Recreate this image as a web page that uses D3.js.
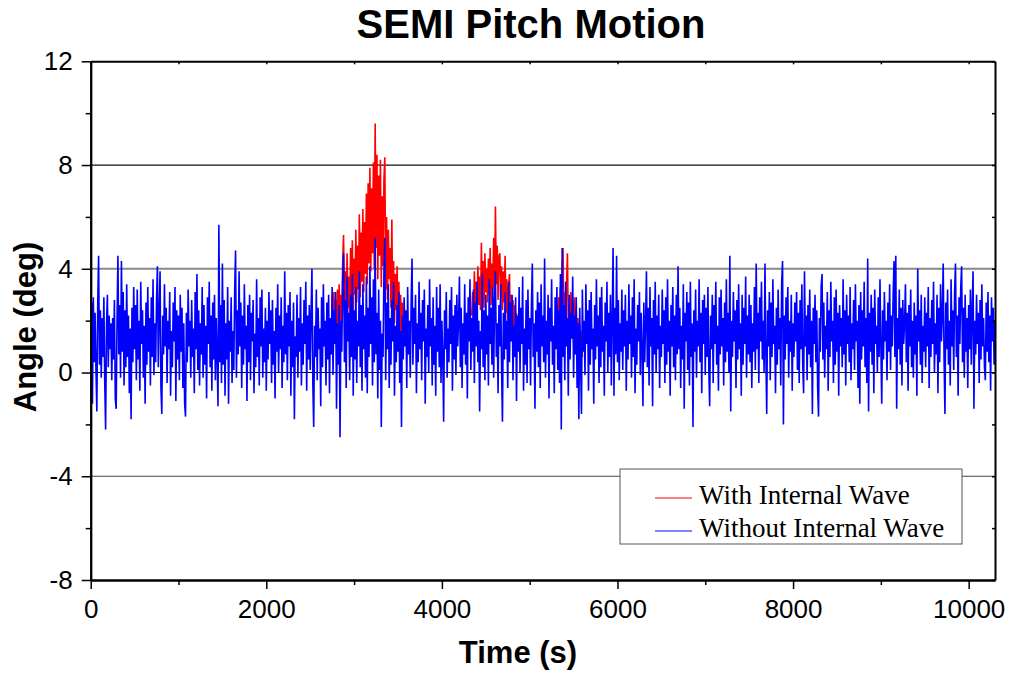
<!DOCTYPE html>
<html>
<head>
<meta charset="utf-8">
<script src="https://cdn.jsdelivr.net/npm/d3@7"></script>
<style>
  body { margin: 0; background: #fff; }
</style>
</head>
<body>
<div class="canva"></div>
<script>
// seconds between samples
const sampleStep = 10;

// pitch angle (deg) without internal wave, from t = 0 s
const withoutWave = [
  1.2,2.7,-1.2,2.9,0.4,2.3,0.1,-1.5,2.6,4.5,0.3,2.4,-0.2,2.1,0.6,2.9,-0.4,-2.2,1.8,3.0,0.2,2.2,0.9,1.9,-0.3,2.1,0.5,2.8,-1.0,-1.4,2.0,4.5,0.7,2.6,-0.2,4.3,0.8,3.1,-0.5,2.4,0.2,3.4,0.6,2.2,-0.8,1.7,-1.8,2.5,0.4,3.3,
  0.9,2.6,-0.3,3.2,0.5,2.0,-0.7,3.5,1.1,2.4,-0.2,1.8,-1.2,2.7,0.3,3.3,0.8,2.1,-0.5,2.9,0.6,3.6,-0.1,1.9,0.4,2.8,4.1,0.2,2.3,3.9,-0.6,-1.6,2.2,0.7,3.4,1.0,2.5,-0.4,2.0,0.9,3.1,-0.9,1.6,0.2,2.7,1.2,3.3,-1.1,2.4,0.5,
  2.2,-0.3,3.0,0.8,2.5,-0.6,1.9,-1.2,-1.7,2.3,0.4,3.2,1.0,2.0,-0.2,2.8,0.6,1.7,-0.8,3.1,0.9,3.8,0.1,2.4,-0.5,1.9,0.7,3.3,-0.2,2.6,0.3,1.8,-1.0,2.9,1.1,3.5,0.2,2.2,-0.7,2.7,0.5,3.0,-0.3,2.1,0.6,-1.3,5.7,0.4,2.6,-0.4,
  4.2,0.3,2.8,-0.9,1.9,0.5,3.3,-1.2,2.0,0.8,2.9,-0.4,1.6,0.1,3.2,4.7,-0.2,2.4,0.7,3.9,1.0,2.7,-0.6,2.2,0.3,3.4,0.9,1.8,-1.1,2.6,0.4,3.0,-0.3,2.3,1.2,2.8,-0.8,1.5,0.2,3.6,0.6,2.1,-0.5,2.9,1.0,3.2,-0.2,1.7,0.4,2.5,
  -0.7,2.0,0.5,3.1,1.1,2.4,-0.4,2.8,0.3,1.6,-1.0,2.5,0.8,3.4,0.0,2.2,0.9,2.9,-0.6,1.8,0.4,3.9,0.7,2.3,-0.3,2.6,1.0,3.1,-0.9,2.0,0.2,2.7,-1.8,1.4,0.6,3.0,-0.2,2.1,0.8,3.3,-0.5,1.9,0.3,2.8,1.1,3.5,-0.7,2.2,0.5,2.6,
  0.1,2.3,4.0,-0.4,-2.1,1.8,0.6,3.2,-0.3,2.5,0.9,1.7,-1.3,2.9,0.2,3.4,1.0,2.0,-0.5,2.7,0.5,3.0,-0.8,2.1,0.7,3.3,-0.1,2.4,1.1,3.1,-1.4,1.9,0.3,2.6,-2.5,2.0,0.8,3.5,4.6,0.4,2.8,-0.6,3.7,1.2,2.3,-0.3,3.0,0.6,3.8,-0.9,
  2.4,0.5,3.3,-0.4,2.0,1.0,3.9,0.2,2.6,-0.7,3.4,0.9,2.2,-0.2,3.7,-0.8,2.5,0.6,4.1,1.1,2.9,-0.5,3.6,0.4,5.2,0.7,2.3,-1.0,3.2,0.1,2.0,-2.1,1.5,0.6,3.9,5.2,-0.3,2.7,0.9,3.4,-0.6,2.1,0.3,2.8,1.2,3.5,-0.9,1.8,0.4,2.6,
  0.8,3.1,-0.4,1.6,-2.1,2.2,0.5,2.9,1.0,2.4,-0.6,3.3,0.7,2.0,-0.2,2.7,4.4,0.3,2.5,1.1,3.0,-0.8,1.9,0.4,3.5,0.9,2.3,-0.3,2.8,1.2,3.2,-1.2,1.7,0.6,2.6,0.0,3.6,1.0,2.1,-0.5,2.9,0.3,1.8,-0.9,3.3,0.8,2.5,0.2,3.4,-0.4,
  2.0,0.6,-1.9,2.4,0.9,3.1,-0.2,1.7,0.4,2.8,1.1,3.3,-0.7,2.2,0.5,2.6,-0.1,3.0,1.0,2.0,3.7,0.2,2.5,-0.6,1.9,0.7,3.4,0.3,2.3,-1.0,2.9,1.2,3.6,0.1,2.1,0.8,3.2,-0.4,2.7,1.0,3.5,0.4,2.0,-1.5,1.6,0.9,3.8,0.2,2.4,-0.3,
  3.0,0.7,2.2,-0.5,3.6,1.1,2.5,0.3,3.3,-0.2,2.8,3.9,0.6,1.9,-0.8,2.6,1.0,3.4,0.1,-1.9,2.3,0.5,3.1,0.9,2.0,-0.6,3.5,0.4,2.7,1.2,3.0,-0.3,1.8,0.6,2.9,-1.1,2.2,0.8,3.3,0.0,2.5,1.1,3.7,-0.7,1.7,0.3,2.8,-0.4,3.2,0.9,
  2.1,-0.5,2.6,4.2,0.6,1.9,-1.4,2.4,0.8,3.1,0.2,2.7,-0.6,3.4,1.0,2.2,0.4,4.4,-0.2,2.0,0.7,3.0,-1.0,2.5,1.2,3.6,0.3,1.8,-0.8,2.9,0.9,3.3,0.1,2.4,-0.4,3.8,-2.2,4.8,0.6,2.6,-0.3,3.5,1.0,2.1,-0.9,3.0,0.5,2.3,1.3,3.7,
  -0.2,2.2,0.7,2.9,-0.6,1.9,-1.8,2.5,0.4,-1.6,3.2,0.8,2.0,-0.1,3.4,1.1,2.4,-0.7,2.8,0.3,3.1,0.9,1.7,-1.2,2.6,0.5,3.6,1.0,2.2,-0.4,2.9,0.2,3.3,0.8,1.8,-0.9,2.7,1.2,3.5,0.0,2.3,0.6,3.0,-0.5,2.1,4.8,-0.9,2.5,0.7,4.5,
  0.4,2.8,-0.3,1.9,0.8,3.2,0.1,2.4,1.0,3.0,-0.7,2.0,0.5,3.4,1.1,2.2,-0.2,2.9,0.6,3.6,-0.8,1.7,0.3,2.6,1.2,3.1,-0.1,2.3,0.9,-1.3,2.7,0.4,1.9,3.9,0.2,2.5,-0.5,3.3,1.0,2.1,-1.3,2.8,0.7,3.5,0.0,2.2,0.9,3.0,-0.6,1.8,
  0.6,3.2,1.1,2.4,-0.4,2.9,0.3,3.6,0.8,2.0,-0.9,2.6,1.0,3.3,0.2,2.2,-0.3,3.0,0.7,4.1,0.9,2.5,-0.6,1.8,0.5,3.4,-1.4,2.3,1.2,3.1,0.1,2.7,-0.5,3.5,0.6,1.9,-2.1,2.4,0.8,3.2,-0.2,2.0,1.0,3.6,0.4,2.3,-0.8,2.8,1.1,3.0,
  -0.1,2.5,0.6,3.3,0.2,-1.3,2.2,0.9,3.0,-0.4,2.6,1.1,3.5,0.3,1.8,-0.7,2.9,0.7,3.2,1.0,2.1,-0.5,2.7,0.4,3.6,0.8,2.3,0.0,4.5,-1.5,2.0,0.6,3.1,1.2,2.4,-0.6,2.8,0.5,3.4,0.9,1.9,-0.9,3.0,0.3,2.5,1.1,3.7,-0.2,2.2,0.7,
  3.0,0.4,2.6,-0.6,1.9,0.8,3.3,0.1,4.2,0.9,2.3,-0.4,2.9,1.2,3.5,0.5,2.0,0.0,4.2,0.7,-1.6,2.4,1.0,3.1,-0.3,2.7,0.6,3.6,1.1,1.8,-0.8,2.5,0.3,3.2,0.9,2.1,-0.5,3.4,4.3,-2.0,2.2,0.5,2.9,1.1,3.3,-0.2,2.0,0.8,3.0,-0.7,
  1.9,0.6,2.7,1.2,3.1,0.1,2.3,-0.4,2.8,0.9,3.4,0.3,-0.8,3.9,1.0,2.2,-0.3,2.6,0.7,3.2,0.2,2.0,-1.6,2.5,1.1,3.0,0.4,2.4,-0.6,-1.7,2.1,0.8,3.3,3.8,0.5,2.7,-0.2,1.8,0.9,3.1,-0.7,2.4,0.6,3.5,1.2,2.0,-0.4,2.9,0.3,3.2,
  0.8,2.3,-0.9,2.6,1.0,2.1,0.2,3.6,0.7,2.4,-0.5,3.0,1.1,2.2,0.4,3.3,-0.3,1.9,0.9,2.8,0.1,3.4,1.2,2.0,-0.6,2.6,-1.2,3.1,0.5,2.4,1.0,3.5,0.2,2.1,-0.4,4.4,-1.5,2.3,0.8,3.0,0.3,2.5,-0.8,3.2,1.1,1.8,0.0,2.9,0.6,3.6,
  1.0,-1.2,2.4,0.5,3.1,1.2,2.0,-0.3,2.7,0.8,3.4,0.1,2.2,1.0,3.0,4.3,0.6,4.5,-1.4,2.1,0.9,3.2,0.3,2.5,-0.5,2.8,1.1,1.9,3.4,0.4,2.3,-0.7,2.6,1.0,3.2,0.2,2.0,-0.2,2.7,0.7,2.2,-0.9,4.0,1.2,2.4,0.3,3.0,-0.4,1.8,0.8,
  2.9,0.2,2.3,1.0,3.3,-0.6,2.1,0.6,2.8,1.1,3.5,0.0,1.9,0.7,3.0,-0.8,2.5,0.4,3.4,1.2,2.2,4.2,0.5,-1.6,2.7,0.9,3.2,0.3,2.0,-0.5,3.6,1.0,2.4,0.1,3.1,4.2,0.6,2.2,-0.9,2.9,1.1,3.3,4.1,0.4,2.5,-0.2,3.0,0.8,2.1,-0.6,
  2.6,0.9,3.2,0.3,2.4,3.9,-1.4,2.0,0.7,3.0,1.1,2.3,-0.4,2.8,0.5,3.4,1.0,2.1,0.2,-0.3,2.7,0.8,3.1,0.4,2.2,-0.7,2.9,1.2,2.5,0.3,2.0
];

// with internal wave: only the stretches where it departs from the curve above
const withWaveStarts = [2750, 4340, 5300];
const withWaveA = [
  2.9,1.2,3.1,1.6,2.8,0.9,3.2,1.5,3.4,1.1,3.0,2.0,4.2,5.3,2.3,3.9,1.8,4.6,2.5,3.7,
  2.1,4.8,2.8,5.1,2.4,4.4,3.0,5.5,2.7,4.9,3.2,6.1,2.9,5.4,3.5,6.3,3.1,5.8,3.8,6.9,
  3.4,7.3,4.2,7.9,3.9,7.1,4.6,8.1,4.0,9.6,4.8,8.4,3.6,7.6,4.5,8.2,3.3,6.8,4.1,7.4,
  8.3,3.2,6.0,2.8,5.5,3.6,4.8,2.5,5.9,2.2,4.3,1.9,3.8,2.4,4.1,1.7,3.5,1.4,3.0,1.2,
  2.7,1.0
];
const withWaveB = [
  2.2,3.1,1.8,3.9,2.3,3.5,2.0,4.1,2.6,3.7,2.4,5.0,2.9,4.3,2.5,4.6,3.1,4.0,2.7,4.4,
  3.0,4.8,2.6,4.2,3.3,5.2,3.0,6.4,3.4,4.9,2.8,4.5,4.6,2.9,4.1,2.4,3.9,2.7,4.5,2.3,
  3.6,2.0,3.3,3.8,1.8,3.0,1.5,2.8,1.7,2.6,1.2,2.3
];
const withWaveC = [
  1.6,2.6,1.2,2.9,1.5,3.3,1.8,3.9,4.8,1.6,3.1,2.0,3.4,4.6,1.7,2.8,1.3,3.1,1.9,2.7,
  1.2,2.9,1.5,2.4,1.0,2.1,1.1,1.8,0.8,1.6,0.6
];

const xMajorTicks = [0, 2000, 4000, 6000, 8000, 10000];
const xMinorTicks = [1000, 3000, 5000, 7000, 9000];
const yMajorTicks = [-8, -4, 0, 4, 8, 12];
const yMinorTicks = [-6, -2, 2, 6, 10];
const legendLabels = ["With Internal Wave", "Without Internal Wave"];
const legendColors = ["#ff0000", "#0000ff"];

const width = 1011, height = 673;
const margin = {top: 61.3, right: 16, bottom: 93, left: 90.7};
const graphWidth = width - margin.left - margin.right;
const graphHeight = height - margin.top - margin.bottom;

const sans = "'Liberation Sans', Arial, sans-serif";

const svg = d3.select(".canva").append("svg")
            .attr("width", width)
            .attr("height", height);

const x = d3.scaleLinear().domain([0, 10300]).range([0, graphWidth]);
const y = d3.scaleLinear().domain([-8, 12]).range([graphHeight, 0]);

const graph = svg.append("g")
            .attr("transform", `translate(${margin.left},${margin.top})`);

svg.append("defs").append("clipPath").attr("id", "plotclip")
   .append("rect").attr("width", graphWidth).attr("height", graphHeight);

//grid lines
const gridStyle = {"8": ["#111", 1.2], "4": ["#888", 2], "0": ["#000", 1.2], "-4": ["#444", 1]};
graph.selectAll(".grid")
     .data([8, 4, 0, -4])
     .enter().append("line")
     .attr("x1", 0).attr("x2", graphWidth)
     .attr("y1", d => y(d)).attr("y2", d => y(d))
     .attr("stroke", d => gridStyle[d][0])
     .attr("stroke-width", d => gridStyle[d][1]);

const line = d3.line().x(d => x(d[0])).y(d => y(d[1]));
const plot = graph.append("g").attr("clip-path", "url(#plotclip)");

//red first so the blue sits on top of it
[withWaveA, withWaveB, withWaveC].forEach(function(seg, k) {
  const pts = seg.map((v, i) => [withWaveStarts[k] + i * sampleStep, v]);
  plot.append("path").datum(pts)
      .attr("fill", "none")
      .attr("stroke", legendColors[0])
      .attr("stroke-width", 1.6)
      .attr("d", line);
});

const bluePts = withoutWave.map((v, i) => [i * sampleStep, v]);
plot.append("path").datum(bluePts)
    .attr("fill", "none")
    .attr("stroke", legendColors[1])
    .attr("stroke-width", 1.6)
    .attr("d", line);

//axes
function styleAxis(g) {
  g.select(".domain").attr("stroke", "#000").attr("stroke-width", 2);
  g.selectAll(".tick line").attr("stroke", "#000").attr("stroke-width", 1.5);
  g.selectAll("text").attr("font-size", 26).attr("fill", "#000")
   .attr("font-family", sans);
}

graph.append("g").attr("transform", `translate(0,${graphHeight})`)
     .call(d3.axisBottom(x).tickValues(xMajorTicks).tickSize(9).tickSizeOuter(0).tickPadding(11).tickFormat(d => String(d)))
     .call(styleAxis);
graph.append("g").attr("transform", `translate(0,${graphHeight})`)
     .call(d3.axisBottom(x).tickValues(xMinorTicks).tickSize(5).tickSizeOuter(0).tickFormat(""))
     .call(styleAxis);

graph.append("g")
     .call(d3.axisLeft(y).tickValues(yMajorTicks).tickSize(9).tickSizeOuter(0).tickPadding(9).tickFormat(d => String(d)))
     .call(styleAxis);
graph.append("g")
     .call(d3.axisLeft(y).tickValues(yMinorTicks).tickSize(5).tickSizeOuter(0).tickFormat(""))
     .call(styleAxis);

graph.append("g")
     .call(d3.axisTop(x).tickValues(xMajorTicks.concat(xMinorTicks)).tickSize(-3).tickSizeOuter(0).tickFormat(""))
     .call(styleAxis);
graph.append("g").attr("transform", `translate(${graphWidth},0)`)
     .call(d3.axisRight(y).tickValues(yMajorTicks.concat(yMinorTicks)).tickSize(-3).tickSizeOuter(0).tickFormat(""))
     .call(styleAxis);

//titles
svg.append("text")
   .attr("x", 531).attr("y", 38)
   .attr("text-anchor", "middle")
   .attr("font-family", sans)
   .attr("font-size", 40).attr("font-weight", "bold")
   .text("SEMI Pitch Motion");

svg.append("text")
   .attr("x", 518).attr("y", 663)
   .attr("text-anchor", "middle")
   .attr("font-family", sans)
   .attr("font-size", 31).attr("font-weight", "bold")
   .text("Time (s)");

svg.append("text")
   .attr("transform", "translate(36,327) rotate(-90)")
   .attr("text-anchor", "middle")
   .attr("font-family", sans)
   .attr("font-size", 31).attr("font-weight", "bold")
   .text("Angle (deg)");

//legend
const legendGroup = svg.append("g").attr("transform", "translate(620,469)");
legendGroup.append("rect")
   .attr("width", 342).attr("height", 75)
   .attr("fill", "#fff").attr("stroke", "#555").attr("stroke-width", 1);

const items = legendGroup.selectAll(".item")
   .data(legendLabels)
   .enter().append("g")
   .attr("transform", (d, i) => `translate(0,${29 + i * 33})`);

items.append("line")
   .attr("x1", 35).attr("x2", 72)
   .attr("stroke", (d, i) => legendColors[i]).attr("stroke-width", 1);

items.append("text")
   .attr("x", 79).attr("y", 6)
   .attr("font-family", "'Liberation Serif', 'Times New Roman', serif")
   .attr("font-size", 27)
   .text(d => d);
</script>
</body>
</html>
